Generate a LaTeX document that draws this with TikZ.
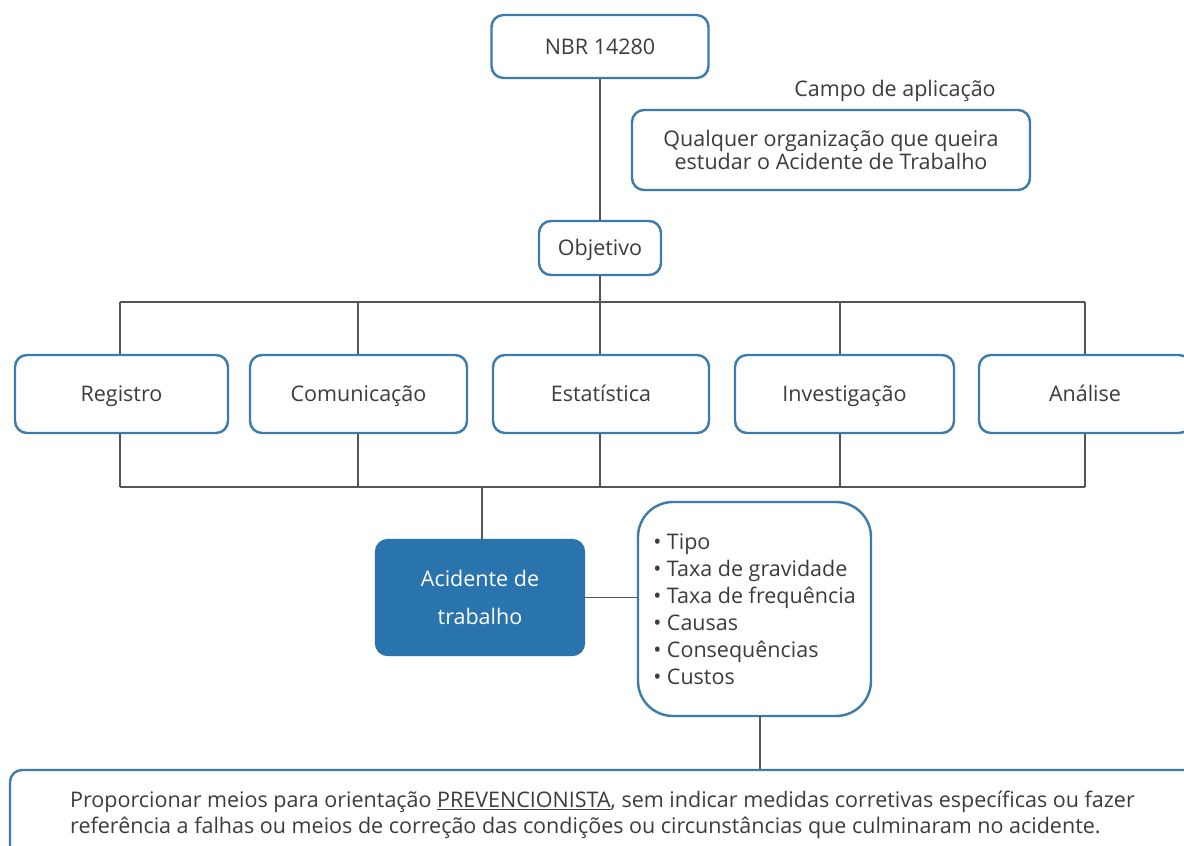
\documentclass[tikz,border=0pt]{standalone}
\usepackage{fontspec}
\setmainfont{Open Sans}
\definecolor{bord}{HTML}{3C7BAB}
\definecolor{fillb}{HTML}{2A74AD}
\definecolor{txt}{HTML}{3C3C3C}
\definecolor{conncol}{HTML}{555555}
\newcommand{\fs}{\fontsize{21.5}{23.5}\selectfont}
\tikzset{
  box/.style={draw=bord, line width=2.4pt, rounded corners=12pt, fill=white, text=txt, font=\fs, align=center, inner sep=0pt},
  one/.style={text height=17.5pt, text depth=2.5pt},
  conn/.style={draw=conncol, line width=1.2pt},
}
\begin{document}
\begin{tikzpicture}[x=1pt,y=-1pt]
\useasboundingbox (0,0) rectangle (1184,846);
\clip (0,0) rectangle (1184,846);
\fill[white] (0,0) rectangle (1184,846);
% top
\node[box, one, minimum width=217pt, minimum height=63pt] (nbr) at (600,46.5) {NBR 14280};
\node[text=txt, font=\fs, one, inner sep=0pt] (campo) at (895,89) {Campo de aplicação};
\node[box, minimum width=398pt, minimum height=80pt] (qual) at (831,150) {Qualquer organização que queira\\estudar o Acidente de Trabalho};
\node[box, one, minimum width=122pt, minimum height=54pt] (obj) at (600,248) {Objetivo};
% row
\node[box, one, minimum width=213pt, minimum height=78pt] (reg) at (121.5,394) {Registro};
\node[box, one, minimum width=217pt, minimum height=78pt] (com) at (358.5,394) {Comunicação};
\node[box, one, minimum width=216pt, minimum height=78pt] (est) at (601,394) {Estatística};
\node[box, one, minimum width=219pt, minimum height=78pt] (inv) at (844.5,394) {Investigação};
\node[box, one, minimum width=212pt, minimum height=78pt] (ana) at (1085,394) {Análise};
% lower
\node[box, draw=fillb, fill=fillb, text=white, minimum width=208pt, minimum height=115pt, font=\fontsize{21.5}{38}\selectfont] (acid) at (480,597.5) {Acidente de\\trabalho};
\node[box, rounded corners=35pt, minimum width=233pt, minimum height=214pt, align=left, font=\fontsize{21.5}{27}\selectfont] (list) at (754.5,609) {%
• Tipo\\• Taxa de gravidade\\• Taxa de frequência\\• Causas\\• Consequências\\• Custos};
\node[box, minimum width=1190pt, minimum height=100pt] (bot) at (605,820) {};
\node[text=txt, font=\fontsize{21.5}{26}\selectfont, align=left, inner sep=0pt] (bottxt) at (602.5,815) {Proporcionar meios para orientação \underline{PREVENCIONISTA}, sem indicar medidas corretivas específicas ou fazer\\referência a falhas ou meios de correção das condições ou circunstâncias que culminaram no acidente.};
% coordinates
\coordinate (t1) at (120,302); \coordinate (t2) at (358,302); \coordinate (t3) at (600,302); \coordinate (t4) at (840,302); \coordinate (t5) at (1085,302);
\coordinate (b1) at (120,487); \coordinate (b2) at (358,487); \coordinate (b3) at (600,487); \coordinate (b4) at (840,487); \coordinate (b5) at (1085,487);
\coordinate (bm) at (482,487);
% connectors
\draw[conn] (nbr.south) -- (obj.north);
\draw[conn] (obj.south) -- (t3);
\draw[conn] (t1) -- (t5);
\draw[conn] (t1) -- (t1 |- reg.north);
\draw[conn] (t2) -- (t2 |- com.north);
\draw[conn] (t3) -- (t3 |- est.north);
\draw[conn] (t4) -- (t4 |- inv.north);
\draw[conn] (t5) -- (t5 |- ana.north);
\draw[conn] (b1) -- (b5);
\draw[conn] (b1) -- (b1 |- reg.south);
\draw[conn] (b2) -- (b2 |- com.south);
\draw[conn] (b3) -- (b3 |- est.south);
\draw[conn] (b4) -- (b4 |- inv.south);
\draw[conn] (b5) -- (b5 |- ana.south);
\draw[conn] (bm) -- (bm |- acid.north);
\draw[conn] (acid.east) -- (list.west |- acid.east);
\draw[conn] (760,716) coordinate (ls) -- (ls |- bot.north);
\end{tikzpicture}
\end{document}
